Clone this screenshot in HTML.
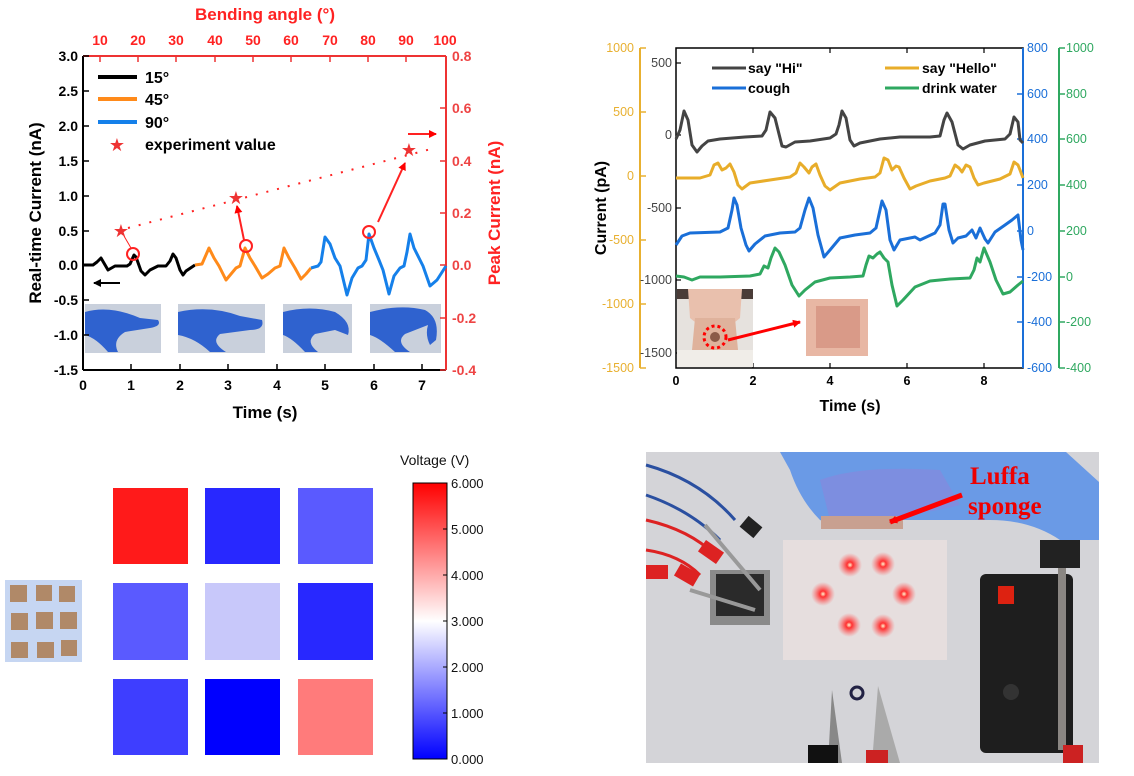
<!DOCTYPE html>
<html><head><meta charset="utf-8"><style>
html,body{margin:0;padding:0;background:#fff;width:1134px;height:776px;overflow:hidden}
svg{display:block}
text{font-family:"Liberation Sans",Arial,sans-serif}
text.serif{font-family:"Liberation Serif",serif}
</style></head><body>
<svg width="1134" height="776" viewBox="0 0 1134 776" xmlns="http://www.w3.org/2000/svg">
<defs>
<linearGradient id="cb" x1="0" y1="1" x2="0" y2="0">
<stop offset="0" stop-color="#0000ff"/><stop offset="0.5" stop-color="#ffffff"/><stop offset="1" stop-color="#ff0000"/>
</linearGradient>
<marker id="ah" markerWidth="8" markerHeight="8" refX="7" refY="4" orient="auto" markerUnits="userSpaceOnUse"><path d="M0,0 L8,4 L0,8 z" fill="#f00"/></marker>
<marker id="ahk" markerWidth="8" markerHeight="8" refX="7" refY="4" orient="auto" markerUnits="userSpaceOnUse"><path d="M0,0 L8,4 L0,8 z" fill="#000"/></marker>
<radialGradient id="glow"><stop offset="0" stop-color="#fff8d0"/><stop offset="0.25" stop-color="#ff3030"/><stop offset="1" stop-color="#ff6060" stop-opacity="0"/></radialGradient>
</defs>

<!-- ========== TOP LEFT ========== -->
<g>
<g>
<rect x="85" y="304" width="76" height="49" fill="#c9d0dc"/>
<path d="M85,312 Q110,305 140,318 L158,320 Q162,326 150,328 L125,332 Q112,340 118,352 L108,352 Q96,338 85,335 z" fill="#2f62cf"/>
<rect x="178" y="304" width="87" height="49" fill="#c9d0dc"/>
<path d="M178,312 Q210,305 240,316 L262,320 Q265,330 250,330 L220,334 Q210,342 226,352 L210,352 Q195,338 178,335 z" fill="#2f62cf"/>
<rect x="283" y="304" width="69" height="49" fill="#c9d0dc"/>
<path d="M283,312 Q310,305 335,312 Q352,322 348,335 L335,330 L315,334 Q305,342 318,352 L305,352 Q292,338 283,335 z" fill="#2f62cf"/>
<rect x="370" y="304" width="71" height="49" fill="#c9d0dc"/>
<path d="M370,312 Q400,304 425,310 Q440,318 436,340 L430,345 Q425,335 428,325 L405,334 Q395,342 410,352 L395,352 Q380,338 370,335 z" fill="#2f62cf"/>
</g>
<line x1="83" y1="56" x2="83" y2="370" stroke="#000" stroke-width="2"/>
<line x1="83" y1="370" x2="446" y2="370" stroke="#000" stroke-width="2"/>
<line x1="83" y1="56" x2="446" y2="56" stroke="#e33" stroke-width="2"/>
<line x1="446" y1="56" x2="446" y2="370" stroke="#e33" stroke-width="2"/>
<g stroke="#000" stroke-width="1.5">
<line x1="83" y1="56" x2="89" y2="56"/><line x1="83" y1="91" x2="89" y2="91"/><line x1="83" y1="126" x2="89" y2="126"/><line x1="83" y1="161" x2="89" y2="161"/><line x1="83" y1="196" x2="89" y2="196"/><line x1="83" y1="231" x2="89" y2="231"/><line x1="83" y1="265" x2="89" y2="265"/><line x1="83" y1="300" x2="89" y2="300"/><line x1="83" y1="335" x2="89" y2="335"/>
<line x1="131" y1="370" x2="131" y2="364"/><line x1="180" y1="370" x2="180" y2="364"/><line x1="228" y1="370" x2="228" y2="364"/><line x1="277" y1="370" x2="277" y2="364"/><line x1="325" y1="370" x2="325" y2="364"/><line x1="374" y1="370" x2="374" y2="364"/><line x1="422" y1="370" x2="422" y2="364"/>
</g>
<g stroke="#e33" stroke-width="1.5">
<line x1="100" y1="56" x2="100" y2="62"/><line x1="138" y1="56" x2="138" y2="62"/><line x1="176" y1="56" x2="176" y2="62"/><line x1="215" y1="56" x2="215" y2="62"/><line x1="253" y1="56" x2="253" y2="62"/><line x1="291" y1="56" x2="291" y2="62"/><line x1="330" y1="56" x2="330" y2="62"/><line x1="368" y1="56" x2="368" y2="62"/><line x1="406" y1="56" x2="406" y2="62"/>
<line x1="446" y1="56" x2="440" y2="56"/><line x1="446" y1="108" x2="440" y2="108"/><line x1="446" y1="161" x2="440" y2="161"/><line x1="446" y1="213" x2="440" y2="213"/><line x1="446" y1="265" x2="440" y2="265"/><line x1="446" y1="318" x2="440" y2="318"/><line x1="446" y1="370" x2="440" y2="370"/>
</g>
<g font-size="14" font-weight="bold" text-anchor="end">
<text x="78" y="61">3.0</text><text x="78" y="96">2.5</text><text x="78" y="131">2.0</text><text x="78" y="166">1.5</text><text x="78" y="201">1.0</text><text x="78" y="236">0.5</text><text x="78" y="270">0.0</text><text x="78" y="305">-0.5</text><text x="78" y="340">-1.0</text><text x="78" y="375">-1.5</text>
</g>
<g font-size="14" font-weight="bold" text-anchor="middle">
<text x="83" y="390">0</text><text x="131" y="390">1</text><text x="180" y="390">2</text><text x="228" y="390">3</text><text x="277" y="390">4</text><text x="325" y="390">5</text><text x="374" y="390">6</text><text x="422" y="390">7</text>
</g>
<g font-size="14" font-weight="bold" text-anchor="middle" fill="#f22">
<text x="100" y="45">10</text><text x="138" y="45">20</text><text x="176" y="45">30</text><text x="215" y="45">40</text><text x="253" y="45">50</text><text x="291" y="45">60</text><text x="330" y="45">70</text><text x="368" y="45">80</text><text x="406" y="45">90</text><text x="445" y="45">100</text>
</g>
<g font-size="14" font-weight="bold" fill="#e44">
<text x="452" y="61">0.8</text><text x="452" y="113">0.6</text><text x="452" y="166">0.4</text><text x="452" y="218">0.2</text><text x="452" y="270">0.0</text><text x="452" y="323">-0.2</text><text x="452" y="375">-0.4</text>
</g>
<text x="265" y="20" font-size="17" font-weight="bold" fill="#f22" text-anchor="middle">Bending angle (°)</text>
<text x="265" y="418" font-size="17" font-weight="bold" text-anchor="middle">Time (s)</text>
<text transform="translate(41,213) rotate(-90)" font-size="17" font-weight="bold" text-anchor="middle">Real-time Current (nA)</text>
<text transform="translate(500,213) rotate(-90)" font-size="17" font-weight="bold" fill="#f22" text-anchor="middle">Peak Current (nA)</text>
<polyline fill="none" stroke="#000" stroke-width="3" stroke-linejoin="round" points="83,265 93,265 97,262 101,258 108,270 115,266 127,266 130,264 134,255 136,257 141,271 145,275 150,270 158,266 166,266 170,261 173,254 176,258 180,270 183,275 186,271 195,265"/>
<polyline fill="none" stroke="#ff8a1a" stroke-width="3" stroke-linejoin="round" points="195,265 202,264 209,248 214,258 219,266 226,280 231,274 236,268 240,266 245,248 250,258 255,266 262,278 268,274 275,268 280,266 284,248 289,258 295,268 301,279 306,274 311,268"/>
<polyline fill="none" stroke="#1580ea" stroke-width="3" stroke-linejoin="round" points="311,268 318,266 321,262 325,237 330,244 335,258 340,266 347,295 352,278 358,268 362,266 366,260 369,234 374,248 379,260 383,270 389,294 394,276 400,268 404,266 407,252 410,234 414,248 419,258 423,266 430,286 437,280 446,266"/>
<line x1="128" y1="228" x2="435" y2="148" stroke="#f22" stroke-width="2" stroke-dasharray="2,9"/>
<g fill="none" stroke="#f22" stroke-width="2"><circle cx="133" cy="254" r="6"/><circle cx="246" cy="246" r="6"/><circle cx="369" cy="232" r="6"/></g>
<line x1="131" y1="248" x2="124" y2="236" stroke="#f22" stroke-width="1"/>
<line x1="244" y1="240" x2="237" y2="206" stroke="#f22" stroke-width="2" marker-end="url(#ah)"/>
<line x1="378" y1="222" x2="405" y2="163" stroke="#f22" stroke-width="2" marker-end="url(#ah)"/>
<line x1="408" y1="134" x2="436" y2="134" stroke="#f22" stroke-width="2" marker-end="url(#ah)"/>
<line x1="120" y1="283" x2="94" y2="283" stroke="#000" stroke-width="2" marker-end="url(#ahk)"/>
<g fill="#e33" font-size="18" text-anchor="middle"><text x="121" y="237">★</text><text x="236" y="204">★</text><text x="409" y="156">★</text></g>
<line x1="98" y1="77" x2="137" y2="77" stroke="#000" stroke-width="4"/>
<line x1="98" y1="99" x2="137" y2="99" stroke="#ff8a1a" stroke-width="4"/>
<line x1="98" y1="122" x2="137" y2="122" stroke="#1580ea" stroke-width="4"/>
<text x="117" y="151" fill="#e33" font-size="18" text-anchor="middle">★</text>
<g font-size="16" font-weight="bold"><text x="145" y="83">15°</text><text x="145" y="105">45°</text><text x="145" y="128">90°</text><text x="145" y="150">experiment value</text></g>
</g>

<!-- ========== TOP RIGHT ========== -->
<g>
<rect x="676" y="48" width="347" height="320" fill="none" stroke="#000" stroke-width="1.5"/>
<line x1="1023" y1="48" x2="1023" y2="368" stroke="#1a6fd8" stroke-width="2"/>
<line x1="640" y1="48" x2="640" y2="368" stroke="#e8b030" stroke-width="2"/>
<line x1="1059" y1="48" x2="1059" y2="368" stroke="#2fa860" stroke-width="2"/>
<g stroke="#000" stroke-width="1.2">
<line x1="676" y1="63" x2="681" y2="63"/><line x1="676" y1="135" x2="681" y2="135"/><line x1="676" y1="208" x2="681" y2="208"/><line x1="676" y1="280" x2="681" y2="280"/><line x1="676" y1="353" x2="681" y2="353"/>
<line x1="753" y1="368" x2="753" y2="363"/><line x1="830" y1="368" x2="830" y2="363"/><line x1="907" y1="368" x2="907" y2="363"/><line x1="984" y1="368" x2="984" y2="363"/>
<line x1="753" y1="48" x2="753" y2="53"/><line x1="830" y1="48" x2="830" y2="53"/><line x1="907" y1="48" x2="907" y2="53"/><line x1="984" y1="48" x2="984" y2="53"/>
</g>
<g stroke="#e8b030" stroke-width="1.5"><line x1="640" y1="48" x2="646" y2="48"/><line x1="640" y1="112" x2="646" y2="112"/><line x1="640" y1="176" x2="646" y2="176"/><line x1="640" y1="240" x2="646" y2="240"/><line x1="640" y1="304" x2="646" y2="304"/><line x1="640" y1="368" x2="646" y2="368"/></g>
<g stroke="#1a6fd8" stroke-width="1.5"><line x1="1017" y1="94" x2="1023" y2="94"/><line x1="1017" y1="139" x2="1023" y2="139"/><line x1="1017" y1="185" x2="1023" y2="185"/><line x1="1017" y1="231" x2="1023" y2="231"/><line x1="1017" y1="277" x2="1023" y2="277"/><line x1="1017" y1="322" x2="1023" y2="322"/></g>
<g stroke="#2fa860" stroke-width="1.5"><line x1="1059" y1="48" x2="1065" y2="48"/><line x1="1059" y1="94" x2="1065" y2="94"/><line x1="1059" y1="139" x2="1065" y2="139"/><line x1="1059" y1="185" x2="1065" y2="185"/><line x1="1059" y1="231" x2="1065" y2="231"/><line x1="1059" y1="277" x2="1065" y2="277"/><line x1="1059" y1="322" x2="1065" y2="322"/><line x1="1059" y1="368" x2="1065" y2="368"/></g>
<g font-size="12.5" fill="#444" text-anchor="end"><text x="672" y="67">500</text><text x="672" y="139">0</text><text x="672" y="212">-500</text><text x="672" y="284">-1000</text><text x="672" y="357">-1500</text></g>
<g font-size="12.5" fill="#e8b030" text-anchor="end"><text x="634" y="52">1000</text><text x="634" y="116">500</text><text x="634" y="180">0</text><text x="634" y="244">-500</text><text x="634" y="308">-1000</text><text x="634" y="372">-1500</text></g>
<g font-size="12.5" fill="#1a6fd8"><text x="1027" y="52">800</text><text x="1027" y="98">600</text><text x="1027" y="143">400</text><text x="1027" y="189">200</text><text x="1027" y="235">0</text><text x="1027" y="281">-200</text><text x="1027" y="326">-400</text><text x="1027" y="372">-600</text></g>
<g font-size="12.5" fill="#2fa860"><text x="1066" y="52">1000</text><text x="1066" y="98">800</text><text x="1066" y="143">600</text><text x="1066" y="189">400</text><text x="1066" y="235">200</text><text x="1066" y="281">0</text><text x="1066" y="326">-200</text><text x="1066" y="372">-400</text></g>
<g font-size="12.5" font-weight="bold" text-anchor="middle"><text x="676" y="385">0</text><text x="753" y="385">2</text><text x="830" y="385">4</text><text x="907" y="385">6</text><text x="984" y="385">8</text></g>
<text x="850" y="411" font-size="16" font-weight="bold" text-anchor="middle">Time (s)</text>
<text transform="translate(606,208) rotate(-90)" font-size="16" font-weight="bold" text-anchor="middle">Current (pA)</text>
<polyline fill="none" stroke="#444" stroke-width="3" stroke-linejoin="round" points="676,139 680,130 684,111 688,120 692,145 697,152 702,146 708,141 720,139 745,137 762,136 766,130 770,112 775,118 778,130 782,146 786,147 795,142 810,141 830,138 836,134 839,125 842,111 846,118 850,140 854,146 860,143 880,139 900,137 930,137 940,136 944,120 947,113 952,122 958,145 963,149 970,145 985,141 1005,139 1010,134 1014,117 1018,122 1020,140 1023,143"/>
<polyline fill="none" stroke="#e8ad2a" stroke-width="3" stroke-linejoin="round" points="676,178 700,178 710,175 714,165 718,163 722,170 726,168 730,164 734,172 738,185 742,189 750,183 770,180 790,177 796,173 800,163 804,167 809,173 812,167 816,164 820,175 825,186 830,190 840,183 860,179 875,177 880,173 884,158 888,160 892,170 896,166 899,167 904,178 910,189 916,186 930,181 945,178 950,176 955,165 959,168 962,172 966,165 970,167 974,178 978,185 984,183 1000,179 1010,174 1014,162 1018,165 1020,170 1023,178"/>
<polyline fill="none" stroke="#1a6fd8" stroke-width="3" stroke-linejoin="round" points="676,245 682,236 690,233 720,232 728,228 732,210 734,198 737,205 741,228 746,245 749,251 755,244 765,236 780,233 795,232 800,228 805,210 809,198 813,208 818,235 824,257 830,250 840,238 855,235 870,233 876,228 880,210 882,201 886,210 890,240 894,250 900,240 910,238 915,237 920,240 935,233 940,225 943,204 945,204 949,230 953,243 958,238 966,236 972,230 976,238 980,228 985,239 988,243 995,232 1005,225 1012,220 1018,215 1021,240 1023,250"/>
<polyline fill="none" stroke="#2fa860" stroke-width="3" stroke-linejoin="round" points="676,276 684,277 692,280 700,277 720,277 750,276 760,274 764,266 768,268 771,258 775,248 779,252 785,265 792,285 799,296 805,290 815,282 830,278 850,277 863,276 866,265 869,256 873,258 877,254 880,252 884,258 888,262 892,285 897,306 903,300 915,287 930,281 950,279 970,278 974,270 977,258 980,262 984,248 990,262 996,280 1003,294 1010,292 1018,285 1023,281"/>
<line x1="712" y1="68" x2="746" y2="68" stroke="#444" stroke-width="3"/>
<line x1="712" y1="88" x2="746" y2="88" stroke="#1a6fd8" stroke-width="3"/>
<line x1="885" y1="68" x2="919" y2="68" stroke="#e8ad2a" stroke-width="3"/>
<line x1="885" y1="88" x2="919" y2="88" stroke="#2fa860" stroke-width="3"/>
<g font-size="14" font-weight="bold"><text x="748" y="73">say "Hi"</text><text x="748" y="93">cough</text><text x="922" y="73">say "Hello"</text><text x="922" y="93">drink water</text></g>
<rect x="677" y="289" width="76" height="78" fill="#e6e2de"/>
<rect x="677" y="289" width="76" height="10" fill="#4a3c38"/>
<path d="M688,289 L742,289 L740,318 Q715,340 690,318 z" fill="#e9c0ad"/>
<path d="M695,318 L735,318 L738,350 L692,350 z" fill="#dfb29c"/>
<rect x="677" y="350" width="76" height="17" fill="#f0ede8"/>
<circle cx="715" cy="337" r="11" fill="none" stroke="#f00" stroke-width="3" stroke-dasharray="3,3"/>
<circle cx="715" cy="337" r="5" fill="#8b5a48"/>
<rect x="806" y="299" width="62" height="57" fill="#e8b7a4"/>
<rect x="816" y="306" width="44" height="42" fill="#d99a88"/>
<line x1="728" y1="340" x2="800" y2="322" stroke="#f00" stroke-width="3" marker-end="url(#ah)"/>
</g>

<!-- ========== BOTTOM LEFT ========== -->
<g>
<rect x="5" y="580" width="77" height="82" fill="#c6d6f2"/>
<g fill="#b08968">
<rect x="10" y="585" width="17" height="17"/><rect x="36" y="585" width="16" height="16"/><rect x="59" y="586" width="16" height="16"/>
<rect x="11" y="613" width="17" height="17"/><rect x="36" y="612" width="17" height="17"/><rect x="60" y="612" width="17" height="17"/>
<rect x="11" y="642" width="17" height="16"/><rect x="37" y="642" width="17" height="16"/><rect x="61" y="640" width="16" height="16"/>
</g>
<rect x="113" y="488" width="75" height="76" fill="#ff1a1a"/>
<rect x="205" y="488" width="75" height="76" fill="#2828ff"/>
<rect x="298" y="488" width="75" height="76" fill="#5a5aff"/>
<rect x="113" y="583" width="75" height="77" fill="#5a5aff"/>
<rect x="205" y="583" width="75" height="77" fill="#c8c8fa"/>
<rect x="298" y="583" width="75" height="77" fill="#2828ff"/>
<rect x="113" y="679" width="75" height="76" fill="#3e3eff"/>
<rect x="205" y="679" width="75" height="76" fill="#0000ff"/>
<rect x="298" y="679" width="75" height="76" fill="#ff7b7b"/>
<rect x="413" y="483" width="34" height="276" fill="url(#cb)" stroke="#000" stroke-width="1"/>
<g stroke="#000"><line x1="443" y1="529" x2="447" y2="529"/><line x1="443" y1="575" x2="447" y2="575"/><line x1="443" y1="621" x2="447" y2="621"/><line x1="443" y1="667" x2="447" y2="667"/><line x1="443" y1="713" x2="447" y2="713"/></g>
<g font-size="13" fill="#111"><text x="451" y="488">6.000</text><text x="451" y="534">5.000</text><text x="451" y="580">4.000</text><text x="451" y="626">3.000</text><text x="451" y="672">2.000</text><text x="451" y="718">1.000</text><text x="451" y="764">0.000</text></g>
<text x="400" y="465" font-size="14" fill="#111">Voltage (V)</text>
</g>

<!-- ========== BOTTOM RIGHT (photo) ========== -->
<g>
<rect x="646" y="452" width="453" height="311" fill="#d4d4d8"/>
<rect x="783" y="540" width="164" height="120" fill="#e6dede"/>
<path d="M780,452 L1066,452 L1099,482 L1099,540 L1060,540 Q1030,520 990,520 L900,520 Q830,525 820,520 Q800,500 790,470 z" fill="#6a9ae6"/>
<path d="M820,480 Q860,465 940,470 L960,505 Q900,520 830,520 z" fill="#7d8ee0"/>
<rect x="821" y="516" width="82" height="13" fill="#c8a090"/>
<line x1="962" y1="495" x2="890" y2="522" stroke="#f00" stroke-width="5" marker-end="url(#ah)"/>
<text class="serif" x="970" y="484" font-size="25" font-weight="bold" fill="#e00">Luffa</text>
<text class="serif" x="968" y="514" font-size="25" font-weight="bold" fill="#e00">sponge</text>
<g>
<circle cx="850" cy="565" r="12" fill="url(#glow)"/><circle cx="883" cy="564" r="12" fill="url(#glow)"/>
<circle cx="823" cy="594" r="12" fill="url(#glow)"/><circle cx="904" cy="594" r="12" fill="url(#glow)"/>
<circle cx="849" cy="625" r="12" fill="url(#glow)"/><circle cx="883" cy="626" r="12" fill="url(#glow)"/>
</g>
<rect x="710" y="570" width="60" height="55" fill="#8a8a8a"/>
<rect x="716" y="574" width="48" height="42" fill="#2a2a2a"/>
<path d="M646,465 Q700,480 735,520" stroke="#2a4fa0" stroke-width="3" fill="none"/>
<path d="M646,495 Q690,510 720,540" stroke="#2a4fa0" stroke-width="3" fill="none"/>
<path d="M646,520 Q690,530 715,555" stroke="#d22" stroke-width="3" fill="none"/>
<path d="M646,550 Q680,555 700,575" stroke="#d22" stroke-width="3" fill="none"/>
<rect x="700" y="545" width="22" height="14" fill="#d22" transform="rotate(35 711 552)"/>
<rect x="676" y="568" width="22" height="14" fill="#d22" transform="rotate(30 687 575)"/>
<rect x="646" y="565" width="22" height="14" fill="#d22"/>
<rect x="742" y="520" width="18" height="14" fill="#222" transform="rotate(40 751 527)"/>
<path d="M705,525 L760,590" stroke="#999" stroke-width="4"/>
<path d="M690,590 L755,610" stroke="#999" stroke-width="4"/>
<rect x="980" y="574" width="93" height="179" rx="6" fill="#1e1e1e"/>
<rect x="998" y="586" width="16" height="18" fill="#d21"/>
<circle cx="1011" cy="692" r="8" fill="#333"/>
<rect x="1058" y="560" width="8" height="190" fill="#8a8682"/>
<rect x="1040" y="540" width="40" height="28" fill="#222"/>
<rect x="1063" y="745" width="20" height="18" fill="#c22"/>
<path d="M828,763 L832,690 L842,763 z" fill="#888"/>
<rect x="808" y="745" width="30" height="18" fill="#111"/>
<path d="M872,763 L878,686 L900,763 z" fill="#aaa"/>
<rect x="866" y="750" width="22" height="13" fill="#c22"/>
<circle cx="857" cy="693" r="6" fill="none" stroke="#224" stroke-width="3"/>
</g>
</svg>
</body></html>
